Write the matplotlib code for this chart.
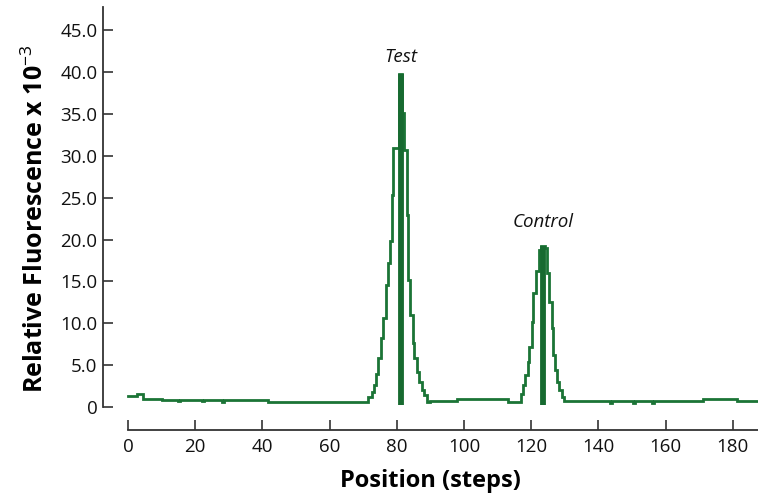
import matplotlib
matplotlib.use("Agg")
import matplotlib.pyplot as plt
import numpy as np

# ---- data ----
step_pos = [0.0, 2.6, 4.6, 10.2, 15.0, 15.6, 21.9, 22.5, 27.9, 28.5, 41.8,
            71.5, 72.5, 73.2, 73.8, 74.5, 75.2, 75.8, 76.8, 77.5, 78.0, 78.6, 79.0,
            80.6, 81.6, 82.2, 82.9, 83.4, 83.9, 84.7, 85.2, 85.9, 86.7, 87.4, 88.1,
            88.9, 89.9, 97.8, 113.2, 116.9, 117.7, 118.2, 118.9, 119.4, 120.1,
            120.6, 121.3, 122.3, 122.9, 124.1, 124.6, 125.4, 126.1, 126.4, 127.1,
            127.8, 128.4, 129.1, 129.8, 143.5, 144.1, 150.4, 151.0, 155.9, 156.5,
            171.2, 181.2, 187.5]
fluor = [1.3, 1.55, 1.0, 0.85, 0.7, 0.85, 0.7, 0.85, 0.65, 0.85, 0.65,
         1.2, 1.8, 2.6, 4.0, 5.8, 8.2, 10.6, 14.6, 17.2, 19.8, 25.3, 30.9,
         39.8, 35.1, 30.7, 22.9, 15.2, 11.0, 7.6, 5.8, 4.2, 3.0, 2.0, 1.4,
         0.65, 0.75, 0.95, 0.55, 1.6, 2.6, 3.8, 5.4, 7.2, 10.2,
         13.6, 16.2, 18.8, 19.2, 19.0, 16.0, 12.6, 9.4, 6.2, 4.4,
         3.0, 2.0, 1.2, 0.75, 0.5, 0.75, 0.5, 0.75, 0.5, 0.75,
         0.95, 0.75, 0.75]

peak_pos = [81.1, 123.5]
peak_val = [39.8, 19.2]
peak_labels = ["Test", "Control"]
peak_label_y = [41.8, 22.1]

x_ticks = list(range(0, 181, 20))
y_ticks = [0, 5, 10, 15, 20, 25, 30, 35, 40, 45]
y_tick_labels = ["0", "5.0", "10.0", "15.0", "20.0", "25.0", "30.0", "35.0", "40.0", "45.0"]

# ---- style ----
plt.rcParams['font.family'] = ['Open Sans', 'DejaVu Sans']
plt.rcParams['mathtext.fontset'] = 'custom'
plt.rcParams['mathtext.rm'] = 'Open Sans'
plt.rcParams['mathtext.bf'] = 'Open Sans:bold'
green = '#1b7436'
axis_col = '#333333'

fig = plt.figure(figsize=(7.58, 5.0), dpi=100)
ax = fig.add_axes([0.1359, 0.14, 1.0 - 0.1359, 0.986 - 0.14])

ax.step(step_pos, fluor, where='post', color=green, lw=2.0, solid_joinstyle='miter')
ax.vlines(peak_pos, 0.2, peak_val, color='#176a30', lw=4.2)
for px, py, lab in zip(peak_pos, peak_label_y, peak_labels):
    ax.text(px, py, lab, ha='center', va='center', fontsize=13.5, style='italic', color='#111111')

ax.set_xlim(-7.44, 187.5)
ax.set_ylim(-2.75, 47.8)

for s in ['top', 'right']:
    ax.spines[s].set_visible(False)
ax.spines['left'].set_bounds(0, 47.8)
ax.spines['bottom'].set_bounds(0, 187.5)
for s in ['left', 'bottom']:
    ax.spines[s].set_color(axis_col)
    ax.spines[s].set_linewidth(1.3)

ax.set_xticks(x_ticks)
ax.set_xticklabels([str(v) for v in x_ticks])
ax.set_yticks(y_ticks)
ax.set_yticklabels(y_tick_labels)
ax.tick_params(axis='both', direction='in', length=7, width=1.2, color=axis_col,
               labelsize=13.5, labelcolor='#111111')
ax.tick_params(axis='y', pad=4)
ax.tick_params(axis='x', pad=6)

ax.set_xlabel("Position (steps)", fontsize=17, fontweight='bold', labelpad=9)
ax.set_ylabel(r"Relative Fluorescence x 10$^{-3}$", fontsize=18, fontweight='bold', labelpad=8)

fig.savefig("out.png", dpi=100)
